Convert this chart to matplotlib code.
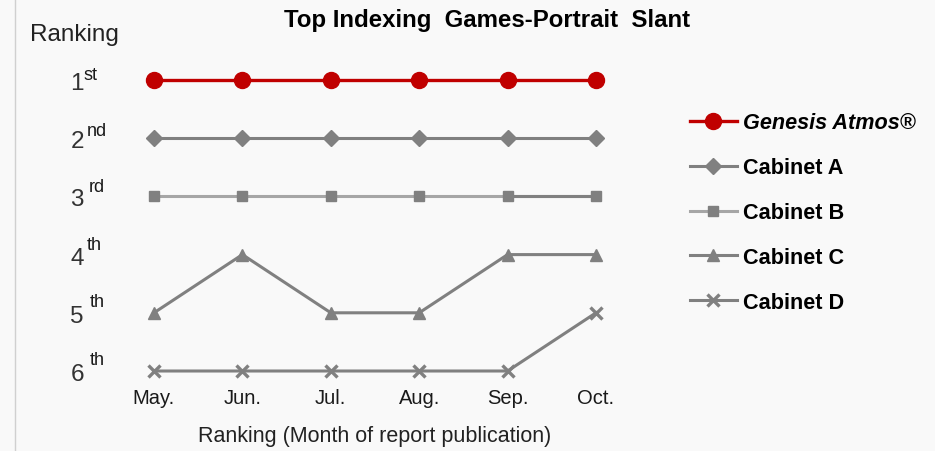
import matplotlib.pyplot as plt
from matplotlib.lines import Line2D

plt.rcParams['font.family'] = ['Liberation Sans', 'DejaVu Sans']

# data
months = ["May.", "Jun.", "Jul.", "Aug.", "Sep.", "Oct."]
rank_nums = ["1", "2", "3", "4", "5", "6"]
rank_sups = ["st", "nd", "rd", "th", "th", "th"]
genesis = [1, 1, 1, 1, 1, 1]
cab_a = [2, 2, 2, 2, 2, 2]
cab_b = [3, 3, 3, 3, 3, 3]
cab_c = [5, 4, 5, 5, 4, 4]
cab_d = [6, 6, 6, 6, 6, 5]

W, H = 935, 452
fig = plt.figure(figsize=(W / 100, H / 100), dpi=100, facecolor="#f9f9f9")
# axes placed so May..Oct / 1st..6th land on the reference pixels
ax = fig.add_axes([154 / W, (H - 372) / H, (596 - 154) / W, (372 - 81) / H])
ax.set_facecolor("#f9f9f9")
x = list(range(len(months)))

ax.plot(x, cab_a, color="#808080", lw=2.2, marker="D", ms=8.5, clip_on=False,
        label="Cabinet A")
ax.plot(x, cab_b, color="#a6a6a6", lw=2.2, marker="s", ms=6.5, mfc="#808080",
        mec="#808080", clip_on=False, label="Cabinet B")
# last segment of Cabinet B is drawn darker in the original
ax.plot(x[4:], cab_b[4:], color="#808080", lw=2.2, clip_on=False)
ax.plot(x, cab_c, color="#808080", lw=2.2, marker="^", ms=8, clip_on=False,
        label="Cabinet C")
ax.plot(x, cab_d, color="#808080", lw=2.2, marker="x", ms=9, mew=2.4,
        clip_on=False, label="Cabinet D")
ax.plot(x, genesis, color="#c00000", lw=2.4, marker="o", ms=11.5, clip_on=False,
        label="Genesis Atmos®", zorder=5)

ax.set_xlim(0, 5)
ax.set_ylim(6, 1)
for s in ax.spines.values():
    s.set_visible(False)
ax.set_xticks(x)
ax.set_xticklabels(months, fontsize=14.5, color="#1a1a1a")
ax.tick_params(length=0, pad=12)
ax.set_yticks([])

# ranking labels with superscripts (offsets in px converted to points)
p = 0.72
sup_dx = [83, 87, 89, 87, 90, 90]
sup_dy = [1, 3, 5, 6, 7, 7]
for i, (n, s) in enumerate(zip(rank_nums, rank_sups)):
    r = i + 1
    ax.annotate(n, (0, r), xycoords=("axes fraction", "data"),
                xytext=((77 - 154) * p, -9 * p), textcoords="offset points",
                ha="center", va="baseline", fontsize=17.5, color="#333333")
    ax.annotate(s, (0, r), xycoords=("axes fraction", "data"),
                xytext=((sup_dx[i] - 154) * p, sup_dy[i] * p),
                textcoords="offset points", ha="left", va="baseline",
                fontsize=13, color="#1a1a1a")

fig.text(30 / W, 1 - 35 / H, "Ranking", fontsize=17.5, va="center", ha="left",
         color="#222222")
fig.text(487 / W, 1 - 21 / H, "Top Indexing  Games-Portrait  Slant",
         fontsize=17.3, fontweight="bold", ha="center", va="center")
fig.text(375 / W, 1 - 437 / H, "Ranking (Month of report publication)",
         fontsize=15.5, ha="center", va="center", color="#222222")

handles, labels = ax.get_legend_handles_labels()
order = [4, 0, 1, 2, 3]
leg = fig.legend([handles[k] for k in order], [labels[k] for k in order],
                 loc="upper left", bbox_to_anchor=(670 / W, 1 - 94 / H),
                 frameon=False, handlelength=2.2, handletextpad=0.28,
                 labelspacing=1.1, prop={"weight": "bold", "size": 15.6})
leg.get_texts()[0].set_style("italic")

fig.add_artist(Line2D([15 / W, 15 / W], [0, 1], color="#d0d0d0", lw=1))

fig.savefig("out.png", dpi=100, facecolor=fig.get_facecolor())
